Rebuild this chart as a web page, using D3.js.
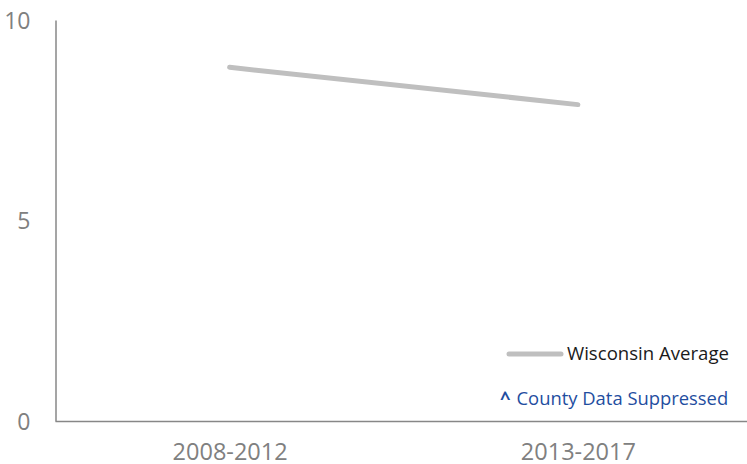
<!DOCTYPE html>
<html>
<head>
<meta charset="utf-8">
<script src="https://cdn.jsdelivr.net/npm/d3@7"></script>
<style>
  html, body { margin: 0; padding: 0; background: #ffffff; }
  svg text { font-family: "Open Sans", sans-serif; }
</style>
</head>
<body>
<svg id="chart" width="747" height="464" style="display:block"></svg>
<script>
// Periods on the x axis
const periods = ["2008-2012", "2013-2017"];
// Wisconsin average per period
const wisconsinAverage = [8.82, 7.89];
// Y axis ticks
const yTicks = [0, 5, 10];
const legendLabel = "Wisconsin Average";
const noteLabel = "County Data Suppressed";

const svg = d3.select("#chart");
const plotLeft = 55.5, plotRight = 752, plotTop = 20, plotBottom = 421;

const x = d3.scalePoint().domain(periods).range([plotLeft, plotRight]).padding(0.5);
const y = d3.scaleLinear().domain([0, 10]).range([plotBottom, plotTop]);

const axisColor = "#878787";
const labelColor = "#808080";

// Y axis
const yAxis = svg.append("g")
  .attr("transform", `translate(${plotLeft},0)`)
  .call(d3.axisLeft(y).tickValues(yTicks).tickSize(0).tickPadding(25));
yAxis.attr("font-family", null);
yAxis.select(".domain").attr("stroke", axisColor).attr("stroke-width", 1.5);
yAxis.selectAll("text")
  .attr("fill", labelColor)
  .style("font-size", "23px")
  .attr("dy", "0.35em");

// X axis
const xAxis = svg.append("g")
  .attr("transform", `translate(0,${plotBottom})`)
  .call(d3.axisBottom(x).tickSize(0).tickPadding(22));
xAxis.attr("font-family", null);
xAxis.select(".domain")
  .attr("d", `M${plotLeft},0.5H747`)
  .attr("stroke", axisColor).attr("stroke-width", 1.5);
xAxis.selectAll("text")
  .attr("fill", labelColor)
  .style("font-size", "23.5px");

// Average line
const line = d3.line()
  .x((d, i) => x(periods[i]))
  .y(d => y(d));
svg.append("path")
  .datum(wisconsinAverage)
  .attr("d", line)
  .attr("fill", "none")
  .attr("stroke", "#bfbfbf")
  .attr("stroke-width", 5)
  .attr("stroke-linecap", "round");

// Legend
const lg = svg.append("g");
lg.append("line")
  .attr("x1", 509).attr("x2", 561)
  .attr("y1", 354).attr("y2", 354)
  .attr("stroke", "#bfbfbf").attr("stroke-width", 5)
  .attr("stroke-linecap", "round");
lg.append("text")
  .attr("x", 567).attr("y", 360)
  .attr("fill", "#1a1a1a")
  .style("font-size", "18.6px")
  .text(legendLabel);

// Suppression note
const note = svg.append("text")
  .attr("x", 500).attr("y", 405)
  .attr("fill", "#1f4e9f")
  .style("font-size", "18.4px");
note.append("tspan").style("font-weight", "bold").text("^");
note.append("tspan").attr("dx", 6).text(noteLabel);
</script>
</body>
</html>
